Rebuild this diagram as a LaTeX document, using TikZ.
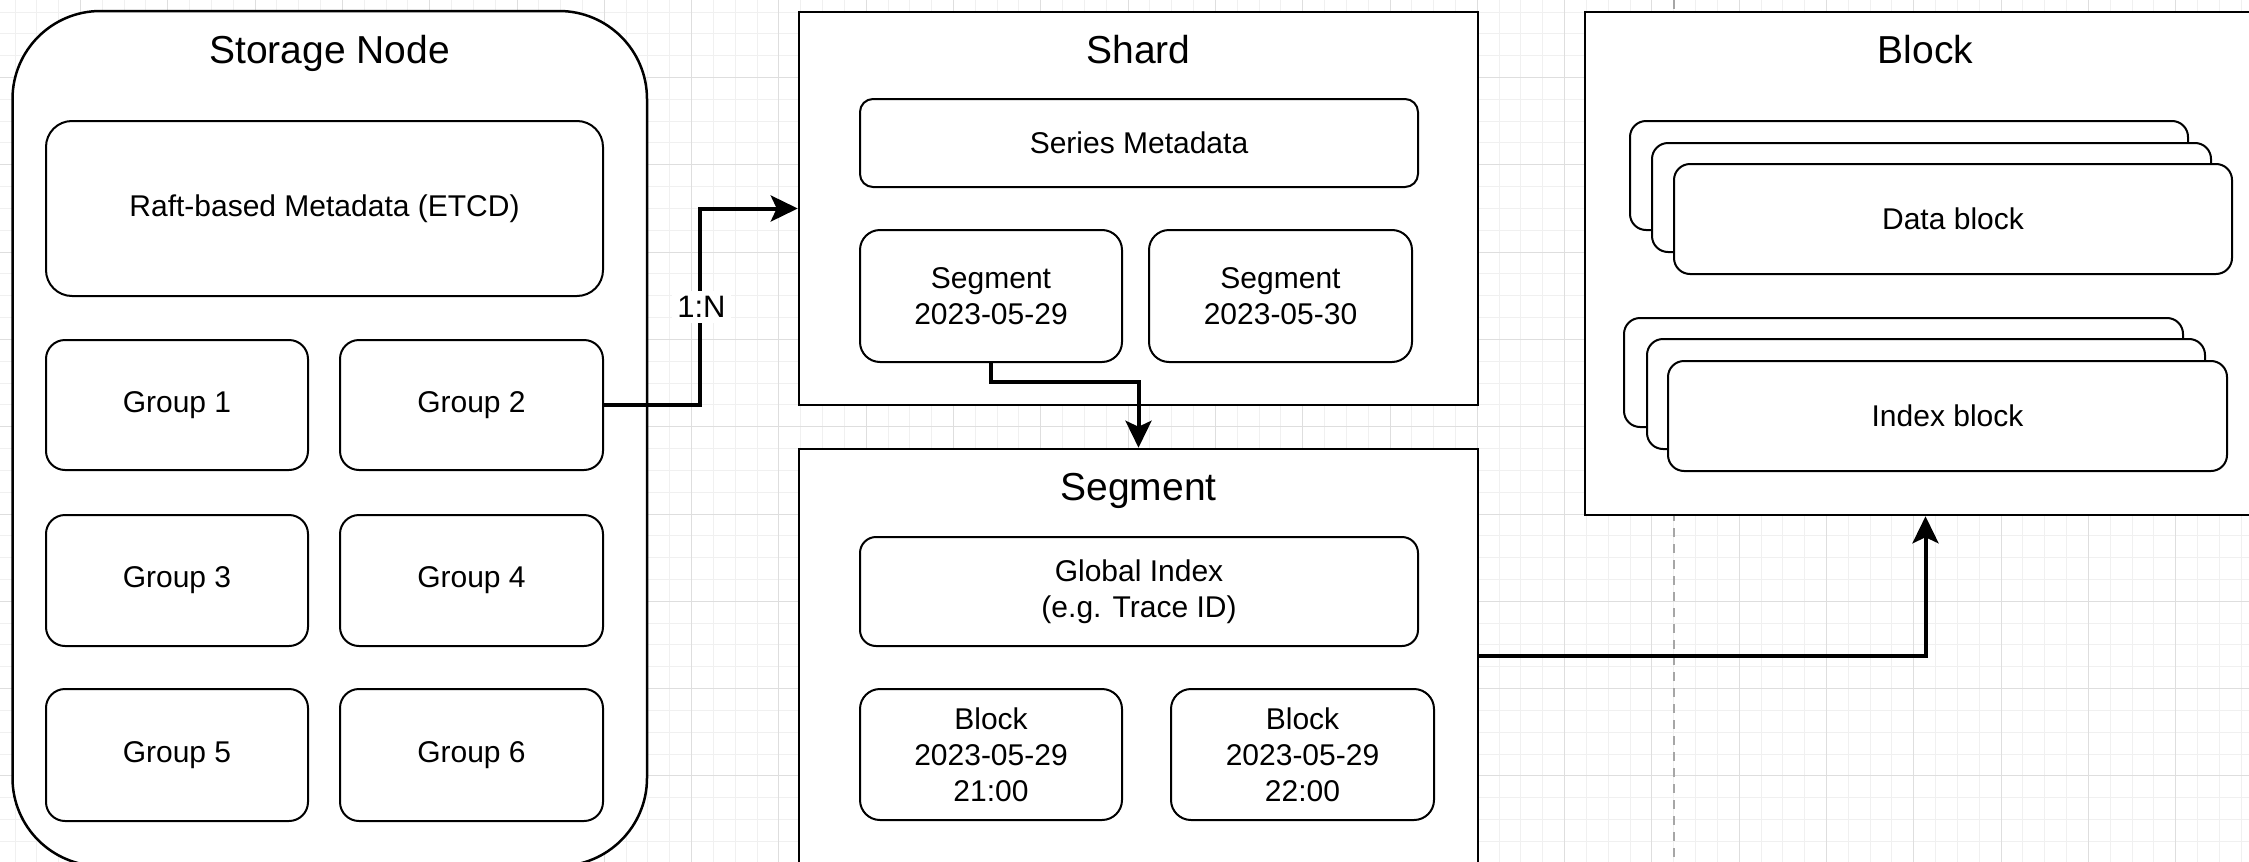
\documentclass[tikz,border=0pt]{standalone}
\usepackage{fontspec}
\setmainfont{Liberation Sans}
\usetikzlibrary{arrows.meta}
\tikzset{
  rbox/.style={draw=black, line width=2pt, fill=white, inner sep=0pt, align=center,
               font=\fontsize{30}{36}\selectfont},
  cbox/.style={draw=black, line width=2.5pt, fill=white, inner sep=0pt},
  ttl/.style={anchor=base, inner sep=0pt, font=\fontsize{39}{46}\selectfont},
  conn/.style={draw=black, line width=4pt, -{Stealth[length=27pt,width=26pt,inset=6pt]}},
  minorgrid/.style={draw=black!6, line width=1pt},
  majorgrid/.style={draw=black!13, line width=1pt},
  guide/.style={draw=black!35, line width=1.5pt, dash pattern=on 9pt off 7pt},
  lbl/.style={fill=white, inner sep=5pt, font=\fontsize{31}{36}\selectfont},
}
\begin{document}
\begin{tikzpicture}[x=1pt, y=-1pt]
\useasboundingbox (0,0) rectangle (2249,862);
\fill[white] (0,0) rectangle (2249,862);
% background grid
\foreach \i in {-4,...,100} \draw[minorgrid] ({80.5+21.825*\i},0) -- ({80.5+21.825*\i},862);
\foreach \j in {-4,...,36} \draw[minorgrid] (0,{77.5+21.825*\j}) -- (2249,{77.5+21.825*\j});
\foreach \i in {-1,...,25} \draw[majorgrid] ({80.5+87.3*\i},0) -- ({80.5+87.3*\i},862);
\foreach \j in {-1,...,9} \draw[majorgrid] (0,{77.5+87.3*\j}) -- (2249,{77.5+87.3*\j});
% alignment guide
\draw[guide] (1674,0) -- (1674,862);

% Storage Node
\node[cbox, rounded corners=88pt, minimum width=634.5pt, minimum height=855pt] (storage) at (329.75,438.5) {};
\node[ttl] (storagetitle) at (329.75,63) {Storage Node};
\node[rbox, rounded corners=26pt, minimum width=557pt, minimum height=175pt] (raft) at (324.5,208.5) {Raft-based Metadata (ETCD)};
\node[rbox, rounded corners=19pt, minimum width=262pt, minimum height=130pt] (g1) at (177,405) {Group 1};
\node[rbox, rounded corners=19pt, minimum width=263pt, minimum height=130pt] (g2) at (471.5,405) {Group 2};
\node[rbox, rounded corners=19pt, minimum width=262pt, minimum height=131pt] (g3) at (177,580.5) {Group 3};
\node[rbox, rounded corners=19pt, minimum width=263pt, minimum height=131pt] (g4) at (471.5,580.5) {Group 4};
\node[rbox, rounded corners=19pt, minimum width=262pt, minimum height=132pt] (g5) at (177,755) {Group 5};
\node[rbox, rounded corners=19pt, minimum width=263pt, minimum height=132pt] (g6) at (471.5,755) {Group 6};

% Shard
\node[cbox, minimum width=679pt, minimum height=393pt] (shard) at (1138.5,208.5) {};
\node[ttl] (shardtitle) at (1138.5,63) {Shard};
\node[rbox, rounded corners=13pt, minimum width=558pt, minimum height=88pt] (series) at (1139,143) {Series Metadata};
\node[rbox, rounded corners=20pt, minimum width=262pt, minimum height=132pt] (seg29) at (991,296) {Segment\\2023-05-29};
\node[rbox, rounded corners=20pt, minimum width=263pt, minimum height=132pt] (seg30) at (1280.5,296) {Segment\\2023-05-30};

% Segment
\node[cbox, minimum width=679pt, minimum height=431pt] (segbox) at (1138.5,664.5) {};
\node[ttl] (segtitle) at (1138.5,500) {Segment};
\node[rbox, rounded corners=16pt, minimum width=558pt, minimum height=109pt] (gidx) at (1139,591.5) {Global Index\\(e.g. Trace ID)};
\node[rbox, rounded corners=20pt, minimum width=262pt, minimum height=131pt] (blk21) at (991,754.5) {Block\\2023-05-29\\21:00};
\node[rbox, rounded corners=20pt, minimum width=263pt, minimum height=131pt] (blk22) at (1302.5,754.5) {Block\\2023-05-29\\22:00};

% Block
\node[cbox, minimum width=681pt, minimum height=503pt] (blockbox) at (1925.5,263.5) {};
\node[ttl] (blocktitle) at (1925.5,63) {Block};
\node[rbox, rounded corners=16pt, minimum width=558pt, minimum height=109pt] (data3) at (1909,175.5) {};
\node[rbox, rounded corners=16pt, minimum width=559pt, minimum height=109pt] (data2) at (1931.5,197.5) {};
\node[rbox, rounded corners=16pt, minimum width=558pt, minimum height=110pt] (data1) at (1953,219) {Data block};
\node[rbox, rounded corners=16pt, minimum width=559pt, minimum height=109pt] (idx3) at (1903.5,372.5) {};
\node[rbox, rounded corners=16pt, minimum width=558pt, minimum height=110pt] (idx2) at (1926,394) {};
\node[rbox, rounded corners=16pt, minimum width=559pt, minimum height=110pt] (idx1) at (1947.5,416) {Index block};

% connectors
\coordinate (bendA) at (700,405);
\draw[conn] (g2.east) -- (bendA) |- (shard.west);
\node[lbl] (ratio) at (701.5,307) {1:N};

\coordinate (bendB) at (1138.5,382);
\draw[conn] (seg29.south) |- (bendB) -- (segbox.north);

\coordinate (bendC) at (1925.5,656);
\draw[conn] (segbox.east |- bendC) -- (bendC) -- (blockbox.south);
\end{tikzpicture}
\end{document}
